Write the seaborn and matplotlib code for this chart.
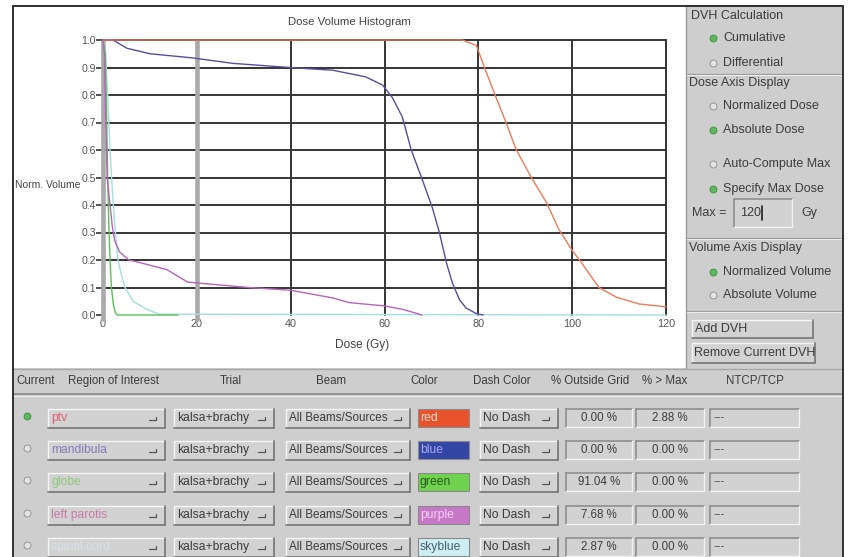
import numpy as np
import pandas as pd
import matplotlib
matplotlib.use("Agg")
import matplotlib.pyplot as plt
import seaborn as sns
from matplotlib.patches import Rectangle

# ---------------- data ----------------
ptv_dose = [0, 76.6, 79.6, 81.3, 83.8, 85.9, 88.1, 91.3, 94.5, 97.2, 100, 102, 105.7, 109.4, 114.3, 120]
ptv_vol = [1.0, 1.0, 0.98, 0.90, 0.79, 0.70, 0.60, 0.50, 0.41, 0.31, 0.235, 0.19, 0.10, 0.065, 0.04, 0.03]

mand_dose = [0, 2.1, 5.1, 10, 19, 27.7, 39.8, 49, 56, 59.6, 61.7, 63.8, 65.7, 68.1, 70.2, 71.7, 73.2, 74.5, 76, 77.4, 79.6, 81]
mand_vol = [1.0, 1.0, 0.97, 0.95, 0.935, 0.915, 0.90, 0.89, 0.866, 0.836, 0.79, 0.72, 0.60, 0.49, 0.39, 0.30, 0.19, 0.115, 0.055, 0.025, 0.005, 0.0]

purp_dose = [0, 0.3, 0.6, 0.9, 1.5, 2.0, 2.5, 3.5, 5.5, 8, 13.6, 18, 21, 31, 40, 49, 52.5, 60, 64, 67, 68]
purp_vol = [1.0, 0.95, 0.7, 0.5, 0.4, 0.32, 0.27, 0.23, 0.20, 0.19, 0.165, 0.12, 0.115, 0.10, 0.09, 0.062, 0.045, 0.033, 0.02, 0.005, 0.0]

green_dose = [0, 0.5, 0.8, 1.0, 1.2, 1.5, 1.8, 2.2, 2.6, 3.0, 16]
green_vol = [1.0, 0.95, 0.7, 0.5, 0.35, 0.2, 0.1, 0.04, 0.01, 0.0, 0.0]

sky_dose = [0, 0.5, 1, 1.5, 2, 2.5, 3.2, 4, 4.7, 6.4, 9.4, 12, 120]
sky_vol = [1.0, 0.97, 0.8, 0.6, 0.45, 0.33, 0.2, 0.14, 0.1, 0.05, 0.02, 0.003, 0.0]

x_ticks = [0, 20, 40, 60, 80, 100, 120]
y_ticks = [0.0, 0.1, 0.2, 0.3, 0.4, 0.5, 0.6, 0.7, 0.8, 0.9, 1.0]

roi_names = ["ptv", "mandibula", "globe", "left parotis", "spinal cord"]
trial_names = ["kalsa+brachy"] * 5
beam_names = ["All Beams/Sources"] * 5
color_names = ["red", "blue", "green", "purple", "skyblue"]
dash_names = ["No Dash"] * 5
pct_outside = ["0.00 %", "0.00 %", "91.04 %", "7.68 %", "2.87 %"]
pct_max = ["2.88 %", "0.00 %", "0.00 %", "0.00 %", "0.00 %"]
ntcp = ["---", "---", "---", "---", "---"]
headers = ["Current", "Region of Interest", "Trial", "Beam", "Color",
           "Dash Color", "% Outside Grid", "% > Max", "NTCP/TCP"]

# ---------------- styles ----------------
line_colors = {"skyblue": "#a6dede", "green": "#5cc05a", "purple": "#b465b8",
               "blue": "#5a4c9e", "red": "#f07a5a"}
swatch_fc = ["#e8532c", "#3346a6", "#6fd24e", "#c678c6", "#cdeef2"]
swatch_tc = ["#ffd8cc", "#a8a8f0", "#2a5a20", "#f4d0f4", "#4a6070"]
roi_tc = ["#e06070", "#8a7ab8", "#8cc87c", "#c87aa8", "#d4e4ea"]

sns.set_style("white")
plt.rcParams["font.family"] = ["Liberation Sans", "DejaVu Sans"]

W, H = 848, 557
fig = plt.figure(figsize=(W / 100, H / 100), dpi=100)
fig.patch.set_facecolor("white")

bg = fig.add_axes([0, 0, 1, 1])
bg.set_xlim(0, W)
bg.set_ylim(H, 0)
bg.axis("off")

GRAY = "#cecece"
TXT = "#3c3c3c"
PF = 9      # right panel font
WF = 8.7    # widget font

# window
bg.add_patch(Rectangle((13, 6), 830, 560, fc=GRAY, ec="none", zorder=0))
bg.add_patch(Rectangle((14, 7), 672, 361, fc="white", ec="none", zorder=0.5))
bg.plot([13, 843], [6, 6], color="#303030", lw=1.4, zorder=5)
bg.plot([13, 13], [6, 557], color="#303030", lw=1.4, zorder=5)
bg.plot([843, 843], [6, 557], color="#303030", lw=1.4, zorder=5)
# separators
bg.plot([686, 686], [7, 368], color="#9a9a9a", lw=1.0, zorder=2)
bg.plot([14, 843], [368.5, 368.5], color="#a8a8a8", lw=1.0, zorder=2)
bg.plot([14, 843], [394, 394], color="#8a8a8a", lw=1.2, zorder=2)
bg.plot([14, 843], [395.5, 395.5], color="#eeeeee", lw=0.8, zorder=2)
for ys in [74, 238, 311]:
    bg.plot([687, 843], [ys, ys], color="#9a9a9a", lw=0.9, zorder=2)
    bg.plot([687, 843], [ys + 1.2, ys + 1.2], color="#ececec", lw=0.8, zorder=2)


def raised(x, y, w, h, fc="#d2d2d2"):
    bg.add_patch(Rectangle((x, y), w, h, fc=fc, ec="none", zorder=2))
    bg.plot([x, x + w], [y, y], color="#f6f6f6", lw=1.0, zorder=3)
    bg.plot([x, x], [y, y + h], color="#f6f6f6", lw=1.0, zorder=3)
    bg.plot([x, x + w], [y + h, y + h], color="#7c7c7c", lw=1.3, zorder=3)
    bg.plot([x + w, x + w], [y, y + h], color="#7c7c7c", lw=1.3, zorder=3)


def sunken(x, y, w, h, fc="#d2d2d2"):
    bg.add_patch(Rectangle((x, y), w, h, fc=fc, ec="none", zorder=2))
    bg.plot([x, x + w], [y, y], color="#8a8a8a", lw=1.1, zorder=3)
    bg.plot([x, x], [y, y + h], color="#8a8a8a", lw=1.1, zorder=3)
    bg.plot([x, x + w], [y + h, y + h], color="#f2f2f2", lw=1.0, zorder=3)
    bg.plot([x + w, x + w], [y, y + h], color="#f2f2f2", lw=1.0, zorder=3)


def dropdown(x, w, yc, text, tc=TXT, h=19, size=WF):
    raised(x, yc - h / 2, w, h)
    bg.text(x + 3, yc, text, ha="left", va="center", fontsize=size, color=tc, zorder=4)
    ix = x + w - 16
    bg.plot([ix, ix + 7, ix + 7], [yc + 2, yc + 2, yc - 1], color="#555555", lw=0.9, zorder=4)


def radio(x, y, on):
    if on:
        bg.plot(x, y, marker="o", ms=5, mfc="#5fb85f", mec="#3f8a3f", mew=0.6, zorder=4)
    else:
        bg.plot(x, y, marker="o", ms=5, mfc="#e4e4e4", mec="#8a8a8a", mew=0.6, zorder=4)


def label(x, y, s, size=PF, ha="left", color=TXT):
    bg.text(x, y, s, ha=ha, va="center", fontsize=size, color=color, zorder=4)


# ---------------- right panel ----------------
label(691, 16, "DVH Calculation")
radio(713, 38, True); label(723, 38, "Cumulative")
radio(713, 63, False); label(723, 63, "Differential")
label(689, 83, "Dose Axis Display")
radio(713, 106, False); label(723, 106, "Normalized Dose")
radio(713, 130, True); label(723, 130, "Absolute Dose")
radio(713, 164, False); label(723, 164, "Auto-Compute Max")
radio(713, 189, True); label(723, 189, "Specify Max Dose")
label(692, 213, "Max =")
sunken(734, 199, 58, 28)
label(740, 213, "120")
bg.plot([762, 762], [206, 220], color="#202020", lw=1.2, zorder=4)
label(801, 213, "Gy")
label(689, 248, "Volume Axis Display")
radio(713, 272, True); label(723, 272, "Normalized Volume")
radio(713, 295, False); label(723, 295, "Absolute Volume")
raised(692, 320, 121, 18)
label(695, 329, "Add DVH")
raised(692, 343, 123, 20)
label(694, 353, "Remove Current DVH")

# ---------------- bottom table ----------------
hdr_x = [36, 114, 231, 331, 424, 502, 590, 665, 755]
for hx, ht in zip(hdr_x, headers):
    label(hx, 381, ht, size=8.3, ha="center")

row_y = [418, 450, 482, 515, 547]
for i, yc in enumerate(row_y):
    radio(27, yc - 2, i == 0)
    dropdown(48, 117, yc, roi_names[i], tc=roi_tc[i])
    dropdown(174, 100, yc, trial_names[i])
    dropdown(286, 124, yc, beam_names[i], size=8.4)
    bg.add_patch(Rectangle((418, yc - 9), 51, 18, fc=swatch_fc[i], ec="#8a8a8a", lw=0.8, zorder=3))
    bg.text(420, yc, color_names[i], ha="left", va="center", fontsize=WF, color=swatch_tc[i], zorder=4)
    dropdown(480, 78, yc, dash_names[i])
    sunken(566, yc - 9, 66, 18)
    label(599, yc, pct_outside[i], ha="center", size=8.3)
    sunken(636, yc - 9, 68, 18)
    label(670, yc, pct_max[i], ha="center", size=8.3)
    sunken(710, yc - 9, 89, 18)
    label(714, yc, ntcp[i], color="#5a5a5a", size=8.3)

# ---------------- chart ----------------
x0, x1, y0, y1 = 103, 666, 40, 315
ax = fig.add_axes([x0 / W, 1 - y1 / H, (x1 - x0) / W, (y1 - y0) / H])
ax.patch.set_alpha(0)
ax.set_zorder(10)

frames = []
for name, d, v in [("skyblue", sky_dose, sky_vol), ("green", green_dose, green_vol),
                   ("purple", purp_dose, purp_vol), ("blue", mand_dose, mand_vol),
                   ("red", ptv_dose, ptv_vol)]:
    frames.append(pd.DataFrame({"dose": d, "vol": v, "roi": name}))
df = pd.concat(frames, ignore_index=True)

# grid
for yt in y_ticks[1:]:
    ax.axhline(yt, color="#353535", lw=1.4, zorder=1, clip_on=False)
for xt in x_ticks:
    if xt in (0, 20):
        ax.plot([xt, xt], [-0.02, 1.0], color="#a9a9a9", lw=3.3, zorder=1.5,
                clip_on=False, solid_capstyle="butt")
    else:
        ax.axvline(xt, color="#353535", lw=1.4, zorder=1, clip_on=False)

sns.lineplot(data=df, x="dose", y="vol", hue="roi", palette=line_colors,
             estimator=None, sort=False, lw=1.0, ax=ax, legend=False, zorder=3)
for ln in ax.get_lines():
    ln.set_clip_on(False)

ax.set_xlim(0, 120)
ax.set_ylim(0, 1)
for s in ax.spines.values():
    s.set_visible(False)
ax.set_xticks(x_ticks)
ax.set_xticklabels([str(t) for t in x_ticks])
ax.set_yticks(y_ticks)
ax.set_yticklabels([f"{t:.1f}" for t in y_ticks])
ax.tick_params(axis="y", length=5, width=1.2, color="#353535", pad=0, labelsize=7.6,
               labelcolor="#555555", left=True)
ax.tick_params(axis="x", length=0, pad=3, labelsize=7.8, labelcolor="#555555", bottom=True)
ax.set_xlabel("")
ax.set_ylabel("")

label(349, 22, "Dose Volume Histogram", size=8.2, ha="center", color="#444444")
label(362, 345, "Dose (Gy)", size=8.6, ha="center", color="#444444")
label(15, 185, "Norm. Volume", size=7.5, color="#444444")

fig.savefig("out.png", dpi=100, facecolor=fig.get_facecolor())
